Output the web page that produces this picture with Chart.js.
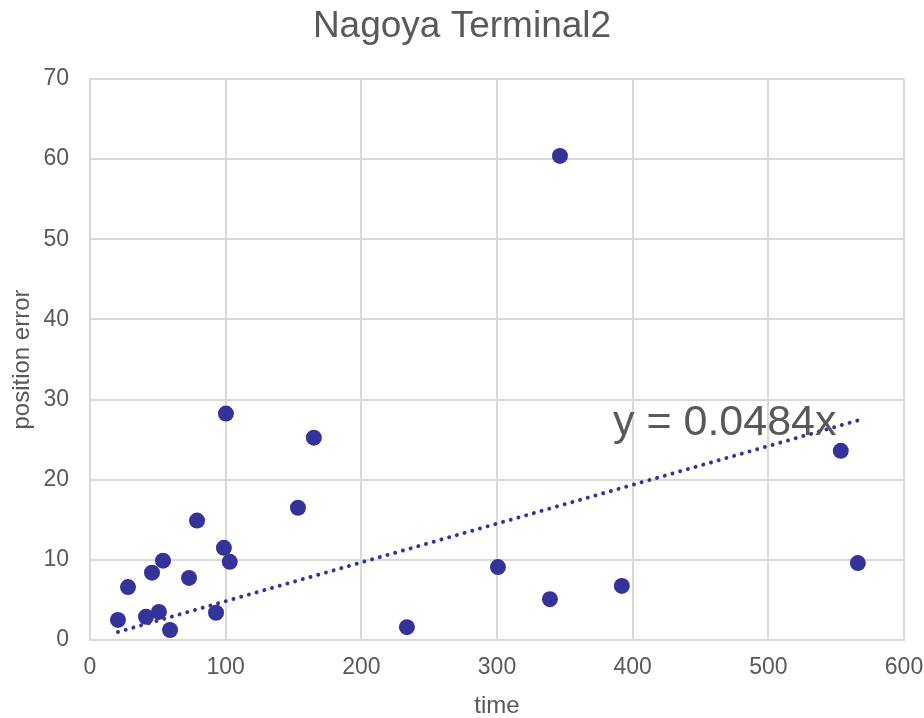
<!DOCTYPE html>
<html>
<head>
<meta charset="utf-8">
<script src="https://cdn.jsdelivr.net/npm/chart.js@4"></script>
<style>
  body { margin: 0; background: #fff; }
  canvas { display: block; }
</style>
</head>
<body>
<canvas id="chart" width="924" height="718"></canvas>
<script>
// --- data ---
const timeValues = [20.6, 28, 41.3, 45.7, 50.8, 53.8, 59, 73, 78.9, 92.9, 98.7, 100.2, 103,
                    153.3, 165, 233.6, 300.7, 339, 346.4, 392, 553.4, 566];
const errorValues = [2.5, 6.6, 2.9, 8.4, 3.5, 9.9, 1.25, 7.75, 14.9, 3.4, 11.5, 28.25, 9.75,
                     16.5, 25.25, 1.6, 9.1, 5.1, 60.4, 6.75, 23.6, 9.6];
const trendSlope = 0.0484;
const trendRange = [20.6, 566];
const trendLabel = 'y = 0.0484x';

const fontFamily = '"Liberation Sans", Arial, Helvetica, sans-serif';
const textColor = '#595959';
const gridColor = '#d9d9d9';
const pointColor = '#333399';

const points = timeValues.map((t, i) => ({ x: t, y: errorValues[i] }));
const trendPoints = trendRange.map(t => ({ x: t, y: trendSlope * t }));

// trendline equation text
const trendText = {
    id: 'trendText',
    afterDatasetsDraw(chart) {
        const { ctx, scales } = chart;
        ctx.save();
        ctx.font = '43px ' + fontFamily;
        ctx.fillStyle = textColor;
        ctx.textAlign = 'left';
        ctx.textBaseline = 'middle';
        ctx.fillText(trendLabel, scales.x.getPixelForValue(385.5), scales.y.getPixelForValue(27));
        ctx.restore();
    }
};

new Chart(document.getElementById('chart'), {
    type: 'scatter',
    data: {
        datasets: [{
            data: points,
            backgroundColor: pointColor,
            borderWidth: 0,
            pointRadius: 8,
            pointHoverRadius: 8
        }, {
            type: 'line',
            data: trendPoints,
            borderColor: pointColor,
            borderWidth: 4,
            borderDash: [0.01, 8],
            borderCapStyle: 'round',
            pointRadius: 0,
            fill: false
        }]
    },
    options: {
        responsive: false,
        animation: false,
        layout: { padding: 0 },
        scales: {
            x: {
                type: 'linear',
                min: 0,
                max: 600,
                afterFit: (s) => { s.height = 78; s.paddingLeft = 0; s.paddingRight = 20; },
                ticks: { stepSize: 100, color: textColor, padding: 14, font: { size: 23, family: fontFamily } },
                grid: { color: gridColor, lineWidth: 2, drawTicks: false },
                border: { color: gridColor, width: 2 },
                title: { display: true, text: 'time', color: textColor, padding: { top: 0, bottom: 0 },
                         font: { size: 24, family: fontFamily, lineHeight: 1 } }
            },
            y: {
                min: 0,
                max: 70,
                afterFit: (s) => { s.width = 90; },
                ticks: { stepSize: 10, color: textColor, padding: 21, font: { size: 23, family: fontFamily } },
                grid: { color: gridColor, lineWidth: 2, drawTicks: false },
                border: { color: gridColor, width: 2 },
                title: { display: true, text: 'position error', color: textColor, padding: { top: 10, bottom: 0 },
                         font: { size: 24, family: fontFamily, lineHeight: 1 } }
            }
        },
        plugins: {
            legend: { display: false },
            tooltip: { enabled: false },
            title: {
                display: true,
                text: 'Nagoya Terminal2',
                color: textColor,
                font: { size: 37, family: fontFamily, weight: 'normal', lineHeight: 1.2 },
                padding: { top: 5, bottom: 29.6 }
            }
        }
    },
    plugins: [trendText]
});
</script>
</body>
</html>
